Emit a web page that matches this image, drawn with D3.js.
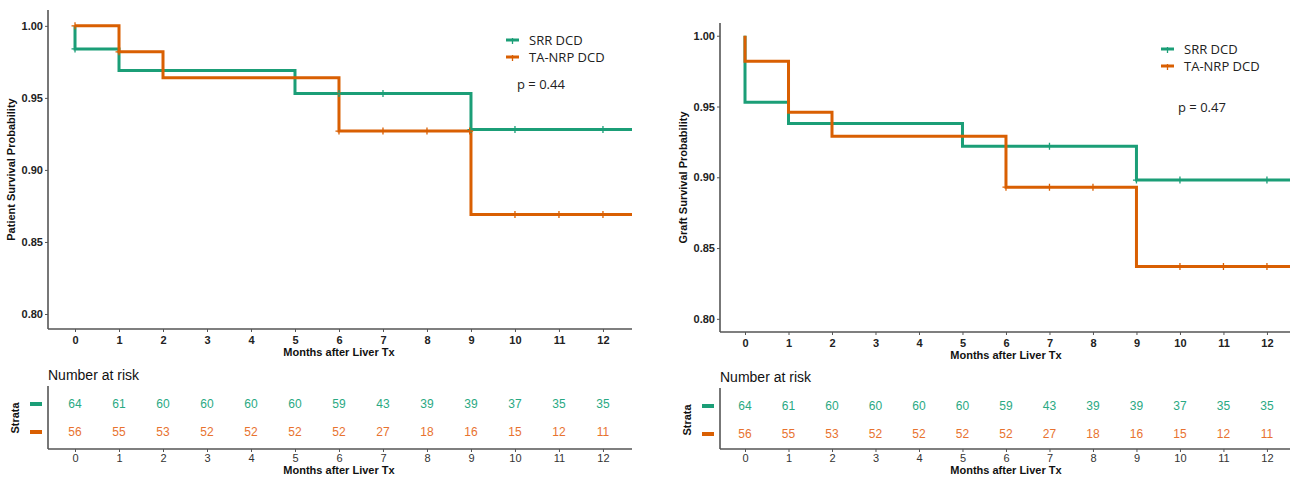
<!DOCTYPE html>
<html>
<head>
<meta charset="utf-8">
<script src="https://cdn.jsdelivr.net/npm/d3@7"></script>
<style>
body { margin: 0; background: #fff; }
svg { display: block; }
.tick-lab { font-family: "Liberation Sans", Arial, sans-serif; font-weight: bold; font-size: 11px; fill: #222; }
.ax-title { font-family: "Liberation Sans", Arial, sans-serif; font-weight: bold; font-size: 11px; fill: #111; }
.leg { font-family: "Open Sans", "Noto Sans", sans-serif; font-size: 13px; fill: #222; }
.risk-num { font-family: "Liberation Sans", Arial, sans-serif; font-size: 12px; }
.risk-tick { font-family: "Liberation Sans", Arial, sans-serif; font-size: 11px; fill: #333; }
.risk-title { font-family: "Liberation Sans", Arial, sans-serif; font-size: 14px; fill: #111; }
</style>
</head>
<body>
<svg id="chart" width="1290" height="478"></svg>
<script>
const months = [0, 1, 2, 3, 4, 5, 6, 7, 8, 9, 10, 11, 12];
const yTicks = [0.80, 0.85, 0.90, 0.95, 1.00];
const groups = ['SRR DCD', 'TA-NRP DCD'];
const colors = ['#1b9e77', '#d95f02'];
const riskColors = ['#2aa983', '#e8722f'];

// patient survival (left)
const patientSrrTime = [0, 0, 1, 5, 9];
const patientSrrSurv = [1.00, 0.984, 0.969, 0.953, 0.928];
const patientNrpTime = [0, 1, 2, 6, 9];
const patientNrpSurv = [1.00, 0.982, 0.964, 0.927, 0.869];
const patientSrrCensor = [0, 6, 7, 9, 10, 12];
const patientNrpCensor = [0, 1, 6, 7, 8, 8.97, 10, 11, 12];

// graft survival (right)
const graftSrrTime = [0, 0, 1, 5, 9];
const graftSrrSurv = [1.00, 0.953, 0.938, 0.922, 0.898];
const graftNrpTime = [0, 0, 1, 2, 6, 9];
const graftNrpSurv = [1.00, 0.982, 0.946, 0.929, 0.893, 0.837];
const graftSrrCensor = [7, 9, 10, 12];
const graftNrpCensor = [6, 7, 8, 10, 11, 12];

const srrAtRisk = [64, 61, 60, 60, 60, 60, 59, 43, 39, 39, 37, 35, 35];
const nrpAtRisk = [56, 55, 53, 52, 52, 52, 52, 27, 18, 16, 15, 12, 11];

const svg = d3.select('#chart');

function survAt(times, surv, t) {
    let s = surv[0];
    times.forEach((tt, i) => { if (tt <= t) s = surv[i]; });
    return s;
}

function drawPanel(p) {
    const g = svg.append('g');
    const x = d3.scaleLinear().domain(p.xDomain).range([p.left, p.right]);
    const y = d3.scaleLinear().domain(p.yDomain).range([p.bottom, p.top]);

    // step curves
    const curves = [[p.srrTime, p.srrSurv], [p.nrpTime, p.nrpSurv]];
    curves.forEach((c, k) => {
        const pts = c[0].map((t, i) => [t, c[1][i]]);
        pts.push([p.xDomain[1], c[1][c[1].length - 1]]);
        g.append('path')
            .datum(pts)
            .attr('fill', 'none')
            .attr('stroke', colors[k])
            .attr('stroke-width', 3)
            .attr('d', d3.line().x(d => x(d[0])).y(d => y(d[1])).curve(d3.curveStepAfter));
    });

    // censor marks
    const cens = [p.srrCensor, p.nrpCensor];
    cens.forEach((arr, k) => {
        g.selectAll(null)
            .data(arr)
            .enter()
            .append('path')
            .attr('stroke', colors[k])
            .attr('stroke-width', 1.3)
            .attr('d', d => {
                const cx = x(d), cy = y(survAt(curves[k][0], curves[k][1], d));
                return `M${cx},${cy - 3.5}V${cy + 3.5}M${cx - 3.5},${cy}H${cx + 3.5}`;
            });
    });

    // axes
    const yAxis = g.append('g')
        .attr('transform', `translate(${p.left},0)`)
        .call(d3.axisLeft(y).tickValues(yTicks).tickFormat(d3.format('.2f')).tickSize(3).tickPadding(2));
    const xAxis = g.append('g')
        .attr('transform', `translate(0,${p.bottom})`)
        .call(d3.axisBottom(x).tickValues(months).tickSize(3).tickPadding(4));
    [yAxis, xAxis].forEach(a => {
        a.select('.domain').attr('stroke', '#555').attr('stroke-width', 1.6);
        a.selectAll('.tick line').attr('stroke', '#555');
        a.selectAll('.tick text').attr('class', 'tick-lab');
    });
    yAxis.select('.domain').attr('d', `M0,${p.top}V${p.bottom}`);
    xAxis.select('.domain').attr('d', `M${p.left},0H${p.right}`);

    g.append('text')
        .attr('class', 'ax-title')
        .attr('text-anchor', 'middle')
        .attr('x', (x(0) + x(12)) / 2)
        .attr('y', p.bottom + 27)
        .text('Months after Liver Tx');
    g.append('text')
        .attr('class', 'ax-title')
        .attr('text-anchor', 'middle')
        .attr('transform', `translate(${p.yTitleX},${(p.top + p.bottom) / 2}) rotate(-90)`)
        .text(p.yTitle);

    // legend
    groups.forEach((name, k) => {
        const ly = p.legendY + k * 17;
        g.append('line')
            .attr('x1', p.legendX).attr('x2', p.legendX + 13)
            .attr('y1', ly).attr('y2', ly)
            .attr('stroke', colors[k]).attr('stroke-width', 3);
        g.append('line')
            .attr('x1', p.legendX + 6.5).attr('x2', p.legendX + 6.5)
            .attr('y1', ly - 2).attr('y2', ly + 4)
            .attr('stroke', colors[k]).attr('stroke-width', 1.3);
        g.append('text')
            .attr('class', 'leg')
            .attr('x', p.legendX + 23)
            .attr('y', ly + 5)
            .text(name);
    });
    g.append('text')
        .attr('class', 'leg')
        .attr('x', p.pX)
        .attr('y', p.pY)
        .text(p.pText);

    // risk table
    const rTop = p.riskTop, rBottom = 449;
    const rowY = d3.scalePoint().domain(groups).range([p.riskRow0, p.riskRow0 + 28]);
    g.append('text')
        .attr('class', 'risk-title')
        .attr('x', p.left)
        .attr('y', rTop - 6)
        .text('Number at risk');
    [srrAtRisk, nrpAtRisk].forEach((vals, k) => {
        g.selectAll(null)
            .data(vals)
            .enter()
            .append('text')
            .attr('class', 'risk-num')
            .attr('text-anchor', 'middle')
            .attr('fill', riskColors[k])
            .attr('x', (d, i) => x(months[i]))
            .attr('y', rowY(groups[k]) + 4)
            .text(d => d);
        g.append('rect')
            .attr('x', p.left - 18).attr('y', rowY(groups[k]) - 2)
            .attr('width', 12).attr('height', 4)
            .attr('fill', colors[k]);
    });
    const rAxis = g.append('g')
        .attr('transform', `translate(0,${rBottom})`)
        .call(d3.axisBottom(x).tickValues(months).tickSize(3).tickPadding(2));
    rAxis.select('.domain').attr('stroke', '#555').attr('stroke-width', 1.6).attr('d', `M${p.left},0H${p.right}`);
    rAxis.selectAll('.tick line').attr('stroke', '#555');
    rAxis.selectAll('.tick text').attr('class', 'risk-tick');
    g.append('line')
        .attr('x1', p.left).attr('x2', p.left)
        .attr('y1', rTop).attr('y2', rBottom)
        .attr('stroke', '#555').attr('stroke-width', 1.6);
    g.append('text')
        .attr('class', 'ax-title')
        .attr('text-anchor', 'middle')
        .attr('x', (x(0) + x(12)) / 2)
        .attr('y', rBottom + 25)
        .text('Months after Liver Tx');
    g.append('text')
        .attr('class', 'ax-title')
        .attr('text-anchor', 'middle')
        .attr('transform', `translate(${p.yTitleX + 4},${rowY(groups[0]) + 14}) rotate(-90)`)
        .text('Strata');
}

drawPanel({
    left: 48, right: 632, top: 10, bottom: 329,
    xDomain: [-0.614, 12.66], yDomain: [0.7896, 1.011],
    srrTime: patientSrrTime, srrSurv: patientSrrSurv,
    nrpTime: patientNrpTime, nrpSurv: patientNrpSurv,
    srrCensor: patientSrrCensor, nrpCensor: patientNrpCensor,
    yTitle: 'Patient Survival Probability', yTitleX: 15,
    legendX: 506, legendY: 40, pX: 517, pY: 89, pText: 'p = 0.44',
    riskTop: 386, riskRow0: 404
});

drawPanel({
    left: 720, right: 1290, top: 23, bottom: 332,
    xDomain: [-0.575, 12.53], yDomain: [0.7907, 1.009],
    srrTime: graftSrrTime, srrSurv: graftSrrSurv,
    nrpTime: graftNrpTime, nrpSurv: graftNrpSurv,
    srrCensor: graftSrrCensor, nrpCensor: graftNrpCensor,
    yTitle: 'Graft Survival Probability', yTitleX: 687,
    legendX: 1161, legendY: 49, pX: 1178, pY: 112, pText: 'p = 0.47',
    riskTop: 388, riskRow0: 406
});
</script>
</body>
</html>
